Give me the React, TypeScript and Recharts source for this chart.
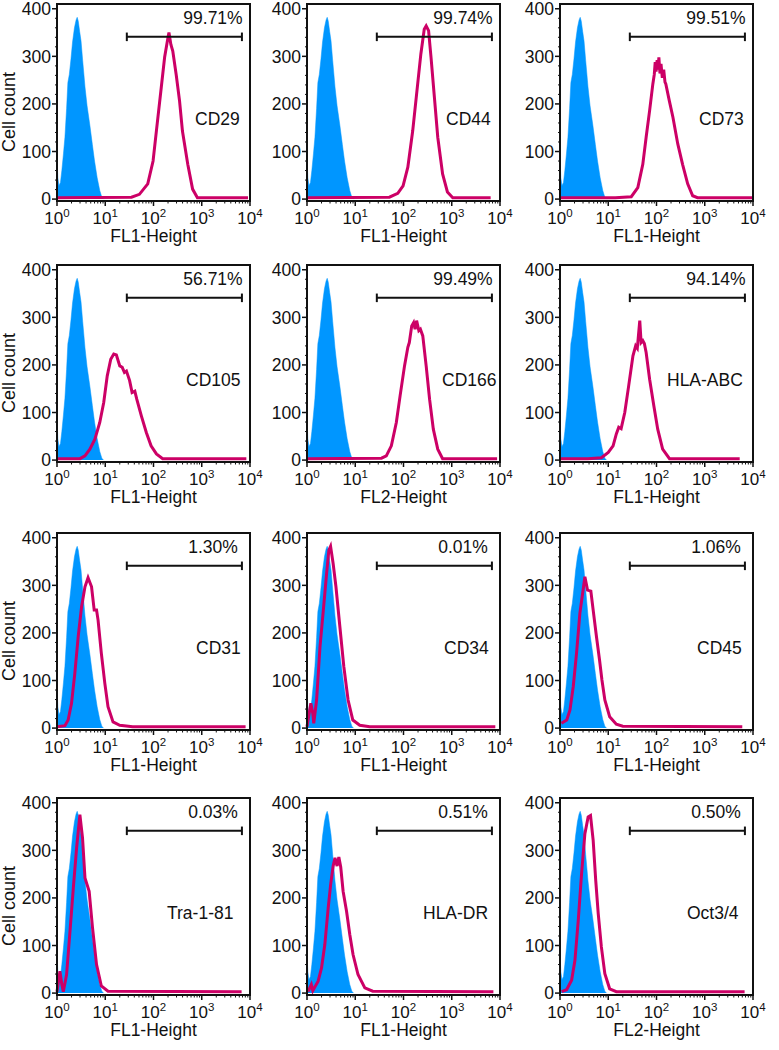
import React from "react";
import {
  ComposedChart,
  Area,
  Line,
  XAxis,
  YAxis,
  ReferenceLine,
} from "recharts";

// fluorescence channel, cell count
const isotype: [number, number][] = [
  [1, 88], [1.04, 45], [1.1, 28], [1.18, 35], [1.26, 60], [1.36, 95], [1.46, 130],
  [1.58, 190], [1.68, 245], [1.8, 262], [1.95, 295], [2.1, 330], [2.3, 360],
  [2.48, 376], [2.62, 382], [2.76, 374], [2.95, 352], [3.15, 332], [3.4, 292],
  [3.7, 250], [3.8, 236], [4.2, 196], [4.8, 155], [5.4, 115], [6.0, 80],
  [6.8, 45], [7.7, 18], [8.5, 4], [9.2, 0],
];

const cd29: [number, number][] = [
  [1, 3], [35, 4], [51, 10], [76, 32], [98, 80], [115, 144], [145, 235], [170, 298],
  [200, 340], [209, 350], [229, 325], [251, 311], [295, 262], [347, 206], [398, 143],
  [513, 73], [646, 21], [813, 3], [9100, 3],
];
const cd44: [number, number][] = [
  [1, 3], [51, 4], [76, 12], [98, 28], [123, 67], [155, 143], [200, 249], [229, 305],
  [269, 357], [295, 364], [331, 354], [372, 298], [437, 214], [513, 130], [646, 53],
  [813, 15], [1050, 3], [6400, 3],
];
const cd73: [number, number][] = [
  [1, 3], [14, 3], [30, 5], [41, 24], [52, 73], [61, 130], [72, 186], [84, 242],
  [90, 262], [94, 288], [98, 268], [103, 292], [108, 272], [112, 298], [118, 264],
  [124, 284], [132, 255], [141, 272], [150, 246], [156, 242], [185, 206], [219, 172],
  [276, 116], [347, 73], [443, 32], [562, 7], [708, 3], [9600, 3],
];
const cd105: [number, number][] = [
  [1, 3], [3, 3], [3.8, 9], [4.8, 23], [6.1, 44], [7.7, 79], [9.3, 121], [11, 177],
  [13, 212], [15, 223], [17, 221], [20, 198], [22.5, 195], [25, 184], [27.5, 187],
  [32, 167], [36, 142], [41, 145], [45, 128], [56, 93], [71, 58], [89, 30], [115, 13],
  [155, 3], [8400, 3],
];
const cd166: [number, number][] = [
  [1, 3], [35, 4], [44, 9], [56, 30], [71, 79], [85, 135], [105, 198], [123, 237],
  [132, 247], [148, 282], [162, 289], [174, 275], [187, 293], [208, 272], [224, 275],
  [251, 261], [295, 198], [347, 128], [415, 65], [513, 23], [646, 3], [8700, 3],
];
const hlaAbc: [number, number][] = [
  [1, 3], [3.8, 3], [7.2, 5], [10, 16], [12.6, 30], [14.7, 55], [16.5, 69], [18.5, 66],
  [22, 100], [26.5, 156], [32.5, 219], [37, 240], [40, 235], [45, 293], [48, 247],
  [52, 251], [56, 245], [61, 226], [72, 170], [88, 114], [106, 65], [134, 23],
  [186, 3], [5300, 3],
];
const cd31: [number, number][] = [
  [1, 3], [1.46, 5], [1.7, 17], [2.0, 52], [2.34, 115], [2.75, 192], [3.23, 255],
  [3.8, 297], [4.4, 316], [5.2, 297], [5.9, 248], [6.6, 248], [7.1, 227], [8.3, 157],
  [9.8, 94], [11.4, 45], [14.5, 13], [20, 6], [37, 3], [8100, 3],
];
const cd34: [number, number][] = [
  [1, 3], [1.2, 52], [1.32, 31], [1.38, 10], [1.58, 59], [1.86, 171], [2.18, 248],
  [2.55, 325], [2.84, 374], [3.08, 382], [3.48, 346], [3.98, 297], [4.8, 213],
  [5.8, 129], [7.1, 59], [8.9, 17], [12.4, 6], [20, 3], [8000, 3],
];
const cd45: [number, number][] = [
  [1.07, 10], [1.38, 17], [1.61, 38], [1.88, 87], [2.2, 157], [2.58, 241], [2.88, 276],
  [3.28, 318], [3.72, 290], [4.36, 288], [4.87, 248], [5.7, 192], [6.6, 143],
  [7.4, 101], [8.5, 59], [10.7, 24], [14.7, 8], [20, 4], [6000, 3],
];
const tra181: [number, number][] = [
  [1, 3], [1.15, 46], [1.26, 18], [1.35, 3], [1.58, 39], [1.86, 130], [2.18, 221],
  [2.55, 305], [2.98, 375], [3.38, 326], [3.8, 242], [4.2, 228], [4.64, 214],
  [5.45, 137], [6.6, 60], [8.3, 15], [11.4, 4], [6700, 3],
];
const hlaDr: [number, number][] = [
  [1.05, 3], [1.23, 18], [1.32, 5], [1.7, 25], [2.0, 53], [2.34, 102], [2.75, 179],
  [3.09, 228], [3.48, 267], [3.8, 284], [4.2, 267], [4.57, 286], [5.0, 265], [5.6, 214],
  [6.6, 172], [7.7, 123], [9, 81], [11.4, 39], [15.8, 11], [23, 4], [7300, 3],
];
const oct34: [number, number][] = [
  [1.08, 3], [1.37, 7], [1.74, 27], [2.04, 69], [2.39, 153], [2.8, 251], [3.28, 335],
  [3.83, 370], [4.29, 373], [4.87, 321], [5.5, 237], [6.2, 167], [7.2, 97], [8.5, 41],
  [10.7, 9], [14.7, 3], [6700, 3],
];

const markers = [
  "CD29", "CD44", "CD73", "CD105", "CD166", "HLA-ABC",
  "CD31", "CD34", "CD45", "Tra-1-81", "HLA-DR", "Oct3/4",
];
const percents = [
  "99.71%", "99.74%", "99.51%", "56.71%", "99.49%", "94.14%",
  "1.30%", "0.01%", "1.06%", "0.03%", "0.51%", "0.50%",
];
const channels = [
  "FL1-Height", "FL1-Height", "FL1-Height", "FL1-Height", "FL2-Height", "FL1-Height",
  "FL1-Height", "FL1-Height", "FL1-Height", "FL1-Height", "FL1-Height", "FL2-Height",
];
const curves = [cd29, cd44, cd73, cd105, cd166, hlaAbc, cd31, cd34, cd45, tra181, hlaDr, oct34];

const gate = [28, 6800];
const gateLevel = 341;

const xDomain = [1, 10000];
const yDomain = [-4, 410];
const majorX = [1, 10, 100, 1000, 10000];
const xTicks = [1, 2, 3, 4, 5, 6, 7, 8, 9, 10, 20, 30, 40, 50, 60, 70, 80, 90, 100, 200, 300, 400, 500, 600, 700, 800, 900, 1000, 2000, 3000, 4000, 5000, 6000, 7000, 8000, 9000, 10000];
const yTicks = [0, 20, 40, 60, 80, 100, 120, 140, 160, 180, 200, 220, 240, 260, 280, 300, 320, 340, 360, 380, 400];

// layout
const colLeft = [57, 307, 560];
const rowTop = [4, 265, 533, 798];
const labelDx = [138, 139, 139, 129, 135, 107, 139, 137, 137, 110, 116, 127];
const plotW = 193;
const plotH = 197;
const padTop = 14;
const padRight = 22;

const FONT = "Arial, 'Liberation Sans', Helvetica, sans-serif";
const BLUE = "#0096FF";
const MAGENTA = "#CC0066";
const INK = "#111";

const XTick = (props: any) => {
  const { x, y, payload } = props;
  const v = payload.value;
  const major = majorX.includes(v);
  if (!major) {
    return <line x1={x} x2={x} y1={y} y2={y + 2.5} stroke={INK} strokeWidth={1} />;
  }
  const exp = Math.round(Math.log10(v));
  return (
    <g>
      <line x1={x} x2={x} y1={y} y2={y + 5} stroke={INK} strokeWidth={1.5} />
      <text x={x} y={y + 23} textAnchor="middle" fontSize={17} fontFamily={FONT} fill={INK}>
        10
        <tspan fontSize={11.5} dy={-7}>
          {exp}
        </tspan>
      </text>
    </g>
  );
};

const YTick = (props: any) => {
  const { x, y, payload } = props;
  const v = payload.value;
  if (v % 100 !== 0) {
    return <line x1={x - 2} x2={x} y1={y} y2={y} stroke={INK} strokeWidth={1} />;
  }
  return (
    <g>
      <line x1={x - 5} x2={x} y1={y} y2={y} stroke={INK} strokeWidth={1.5} />
      <text x={x - 6} y={y} dy="0.36em" textAnchor="end" fontSize={17.5} fontFamily={FONT} fill={INK}>
        {v}
      </text>
    </g>
  );
};

const Panel = ({ idx }: { idx: number }) => {
  const left = colLeft[idx % 3];
  const top = rowTop[Math.floor(idx / 3)];
  const ctrl = isotype.map(([x, y]) => ({ x, y }));
  const stain = curves[idx].map(([x, y]) => ({ x, y }));
  return (
    <>
      <div style={{ position: "absolute", left: left - 50, top: top - padTop }}>
        <ComposedChart
          width={50 + plotW + padRight}
          height={padTop + plotH + 50}
          margin={{ top: padTop, right: padRight, bottom: 0, left: 0 }}
        >
          <XAxis
            type="number"
            dataKey="x"
            scale="log"
            domain={xDomain}
            ticks={xTicks}
            interval={0}
            tick={XTick}
            tickLine={false}
            tickSize={0}
            tickMargin={0}
            axisLine={false}
            height={50}
          />
          <YAxis
            type="number"
            domain={yDomain}
            ticks={yTicks}
            interval={0}
            tick={YTick}
            tickLine={false}
            tickSize={0}
            tickMargin={0}
            axisLine={false}
            width={50}
          />
          <Area
            data={ctrl}
            dataKey="y"
            type="linear"
            fill={BLUE}
            fillOpacity={1}
            stroke={BLUE}
            strokeWidth={0.5}
            isAnimationActive={false}
          />
          <Line
            data={stain}
            dataKey="y"
            type="linear"
            stroke={MAGENTA}
            strokeWidth={3}
            dot={false}
            isAnimationActive={false}
          />
          <ReferenceLine
            segment={[{ x: gate[0], y: gateLevel }, { x: gate[1], y: gateLevel }]}
            stroke={INK}
            strokeWidth={2}
          />
          <ReferenceLine
            segment={[{ x: gate[0], y: gateLevel - 9 }, { x: gate[0], y: gateLevel + 9 }]}
            stroke={INK}
            strokeWidth={2}
          />
          <ReferenceLine
            segment={[{ x: gate[1], y: gateLevel - 9 }, { x: gate[1], y: gateLevel + 9 }]}
            stroke={INK}
            strokeWidth={2}
          />
        </ComposedChart>
      </div>
      {/* plot box */}
      <div
        style={{
          position: "absolute",
          left: left - 1,
          top: top - 1,
          width: plotW + 2,
          height: plotH + 2,
          boxSizing: "border-box",
          border: `2px solid ${INK}`,
          pointerEvents: "none",
        }}
      />
    </>
  );
};

export default function App() {
  return (
    <div style={{ position: "absolute", left: 0, top: 0, width: 779, height: 1050, background: "#fff", overflow: "hidden" }}>
      {markers.map((_, i) => (
        <Panel key={i} idx={i} />
      ))}
      <svg
        width={779}
        height={1050}
        style={{ position: "absolute", left: 0, top: 0, pointerEvents: "none" }}
        fontFamily={FONT}
        fill={INK}
      >
        {markers.map((m, i) => {
          const left = colLeft[i % 3];
          const top = rowTop[Math.floor(i / 3)];
          return (
            <g key={m}>
              <text x={left + 156} y={top + 20} textAnchor="middle" fontSize={17.5}>
                {percents[i]}
              </text>
              <text x={left + labelDx[i]} y={top + 121} fontSize={17.5}>
                {m}
              </text>
              <text x={left + plotW / 2} y={top + 195 + 43} textAnchor="middle" fontSize={17.5}>
                {channels[i]}
              </text>
              {i % 3 === 0 && (
                <text
                  x={0}
                  y={0}
                  transform={`translate(15, ${top + 108}) rotate(-90)`}
                  textAnchor="middle"
                  fontSize={18}
                >
                  Cell count
                </text>
              )}
            </g>
          );
        })}
      </svg>
    </div>
  );
}
